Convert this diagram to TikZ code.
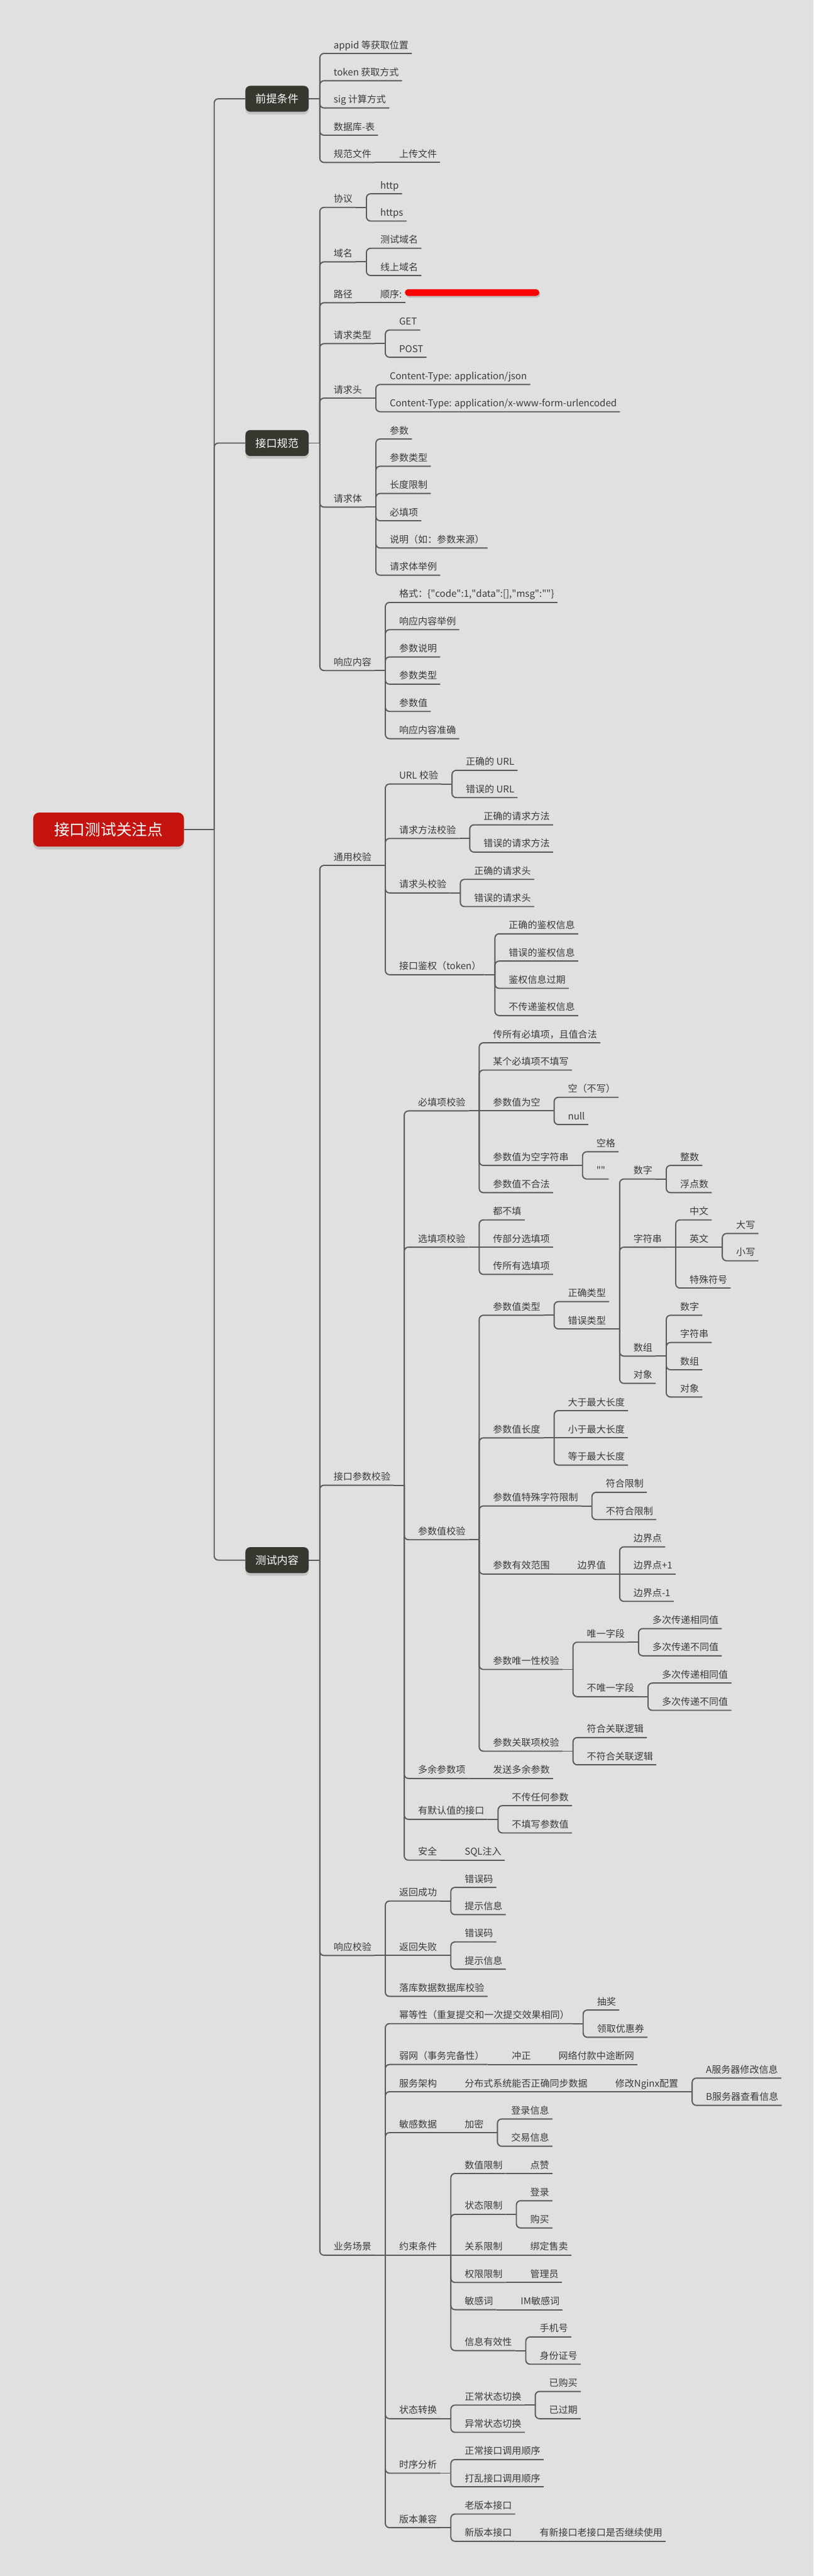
\documentclass[tikz,border=0pt]{standalone}
\usepackage{fontspec}
\setmainfont{Noto Sans CJK SC}
\usetikzlibrary{positioning,shadows}

\definecolor{paper}{HTML}{E0E0E0}
\definecolor{wire}{HTML}{5A5A5A}
\definecolor{ink}{HTML}{3A3A3A}
\definecolor{boxfill}{HTML}{38372F}
\definecolor{rootred}{HTML}{C4130E}

% straight double quote, without the TeX mapping
\font\plainquote="Noto Sans CJK SC" at 7.9pt
\newcommand\dquote{{\plainquote"}}

\begin{document}
\begin{tikzpicture}[
    topic/.style={
      anchor=south west,
      xshift=3.1mm,
      inner xsep=0.9mm,
      inner ysep=0.8mm,
      text height=2.2mm,
      text depth=0.6mm,
      text=ink,
      font=\fontsize{7.9}{9}\selectfont
    },
    mainbox/.style={
      anchor=west,
      xshift=9.1mm,
      fill=boxfill,
      text=white,
      rounded corners=4pt,
      minimum width=1.86cm,
      minimum height=0.76cm,
      font=\fontsize{9}{11}\selectfont,
      drop shadow={opacity=0.3,shadow xshift=0mm,shadow yshift=-0.8mm}
    },
    rootbox/.style={
      fill=rootred,
      text=white,
      rounded corners=5pt,
      minimum width=4.43cm,
      minimum height=1cm,
      font=\fontsize{13}{15}\selectfont,
      drop shadow={opacity=0.3,shadow xshift=0mm,shadow yshift=-0.8mm}
    },
    redmark/.style={
      fill=red,
      rounded corners=1mm,
      minimum width=3.95cm,
      minimum height=2mm,
      inner sep=0pt,
      drop shadow={opacity=0.35,shadow xshift=0.3mm,shadow yshift=-0.5mm}
    },
    link/.style={draw=wire,line width=1pt},
    branch/.style={link,rounded corners=3.5pt}
  ]

  \fill[paper] (0,0) rectangle (23.9,-75.64);
  \useasboundingbox (0,0) rectangle (23.9,-75.64);

  % root and main branches
  \node[rootbox] (root) at (3.19,-24.36) {接口测试关注点};
  \coordinate (root-b) at ([xshift=8.8mm]root.east);
  \node[mainbox] (pre) at (root-b |- 0,-2.90) {前提条件};
  \node[mainbox] (spec) at (root-b |- 0,-13.01) {接口规范};
  \node[mainbox] (test) at (root-b |- 0,-45.81) {测试内容};
  \draw[link] (root.east) -- (root-b);
  \foreach \k in {pre,spec,test}
    \draw[branch] (root-b) |- (\k.west);

  % 前提条件
  \coordinate (pre-b) at ([xshift=3.2mm]pre.east);
  \node[topic] (pre1) at (pre-b |- 0,-1.57) {appid 等获取位置};
  \node[topic] (pre2) at (pre-b |- 0,-2.37) {token 获取方式};
  \node[topic] (pre3) at (pre-b |- 0,-3.17) {sig 计算方式};
  \node[topic] (pre4) at (pre-b |- 0,-3.97) {数据库-表};
  \node[topic] (pre5) at (pre-b |- 0,-4.77) {规范文件};
  \node[topic,xshift=3.1mm] (pre5a) at (pre5.south east) {上传文件};
  \draw[link] (pre.east) -- (pre-b);
  \foreach \i in {1,...,5}
    \draw[branch] (pre-b) |- (pre\i.south east);
  \draw[link] (pre5.south east) -- (pre5a.south east);

  % 接口规范
  \coordinate (spec-b) at ([xshift=3.2mm]spec.east);
  \node[topic] (spec1) at (spec-b |- 0,-6.09) {协议};
  \node[topic] (spec2) at (spec-b |- 0,-7.69) {域名};
  \node[topic] (spec3) at (spec-b |- 0,-8.89) {路径};
  \node[topic] (spec4) at (spec-b |- 0,-10.09) {请求类型};
  \node[topic] (spec5) at (spec-b |- 0,-11.69) {请求头};
  \node[topic] (spec6) at (spec-b |- 0,-14.89) {请求体};
  \node[topic] (spec7) at (spec-b |- 0,-19.69) {响应内容};
  \draw[link] (spec.east) -- (spec-b);
  \foreach \i in {1,...,7}
    \draw[branch] (spec-b) |- (spec\i.south east);

  \coordinate (spec1-b) at ([xshift=3.1mm]spec1.south east);
  \node[topic] (spec1a) at (spec1-b |- 0,-5.69) {http};
  \node[topic] (spec1b) at (spec1-b |- 0,-6.49) {https};
  \coordinate (spec2-b) at ([xshift=3.1mm]spec2.south east);
  \node[topic] (spec2a) at (spec2-b |- 0,-7.29) {测试域名};
  \node[topic] (spec2b) at (spec2-b |- 0,-8.09) {线上域名};
  \node[topic,xshift=3.1mm] (spec3a) at (spec3.south east) {顺序:\hspace{4.1cm}};
  \node[redmark] (mask) at (13.87,-8.59) {};
  \coordinate (spec4-b) at ([xshift=3.1mm]spec4.south east);
  \node[topic] (spec4a) at (spec4-b |- 0,-9.69) {GET};
  \node[topic] (spec4b) at (spec4-b |- 0,-10.49) {POST};
  \coordinate (spec5-b) at ([xshift=3.1mm]spec5.south east);
  \node[topic] (spec5a) at (spec5-b |- 0,-11.29) {Content-Type: application/json};
  \node[topic] (spec5b) at (spec5-b |- 0,-12.09) {Content-Type: application/x-www-form-urlencoded};
  \coordinate (spec6-b) at ([xshift=3.1mm]spec6.south east);
  \node[topic] (spec6a) at (spec6-b |- 0,-12.89) {参数};
  \node[topic] (spec6b) at (spec6-b |- 0,-13.69) {参数类型};
  \node[topic] (spec6c) at (spec6-b |- 0,-14.49) {长度限制};
  \node[topic] (spec6d) at (spec6-b |- 0,-15.29) {必填项};
  \node[topic] (spec6e) at (spec6-b |- 0,-16.09) {说明（如：参数来源）};
  \node[topic] (spec6f) at (spec6-b |- 0,-16.89) {请求体举例};
  \coordinate (spec7-b) at ([xshift=3.1mm]spec7.south east);
  \node[topic] (spec7a) at (spec7-b |- 0,-17.69)
    {格式：\{\dquote code\dquote:1,\dquote data\dquote:[],\dquote msg\dquote:\dquote\dquote\}};
  \node[topic] (spec7b) at (spec7-b |- 0,-18.49) {响应内容举例};
  \node[topic] (spec7c) at (spec7-b |- 0,-19.29) {参数说明};
  \node[topic] (spec7d) at (spec7-b |- 0,-20.09) {参数类型};
  \node[topic] (spec7e) at (spec7-b |- 0,-20.89) {参数值};
  \node[topic] (spec7f) at (spec7-b |- 0,-21.69) {响应内容准确};

  \foreach \p/\kids in {spec1/{a,b},spec2/{a,b},spec4/{a,b},spec5/{a,b},
                        spec6/{a,b,c,d,e,f},spec7/{a,b,c,d,e,f}} {
    \draw[link] (\p.south east) -- (\p-b);
    \foreach \i in \kids
      \draw[branch] (\p-b) |- (\p\i.south east);
  }
  \draw[link] (spec3.south east) -- (spec3a.south east);

  % 测试内容
  \coordinate (test-b) at ([xshift=3.2mm]test.east);
  \node[topic] (gen) at (test-b |- 0,-25.41) {通用校验};
  \node[topic] (par) at (test-b |- 0,-43.61) {接口参数校验};
  \node[topic] (resp) at (test-b |- 0,-57.42) {响应校验};
  \node[topic] (biz) at (test-b |- 0,-66.22) {业务场景};
  \draw[link] (test.east) -- (test-b);
  \foreach \k in {gen,par,resp,biz}
    \draw[branch] (test-b) |- (\k.south east);

  % 通用校验
  \coordinate (gen-b) at ([xshift=3.1mm]gen.south east);
  \node[topic] (gen1) at (gen-b |- 0,-23.02) {URL 校验};
  \node[topic] (gen2) at (gen-b |- 0,-24.62) {请求方法校验};
  \node[topic] (gen3) at (gen-b |- 0,-26.22) {请求头校验};
  \node[topic] (gen4) at (gen-b |- 0,-28.62) {接口鉴权（token）};
  \coordinate (gen1-b) at ([xshift=3.1mm]gen1.south east);
  \node[topic] (gen1a) at (gen1-b |- 0,-22.62) {正确的 URL};
  \node[topic] (gen1b) at (gen1-b |- 0,-23.42) {错误的 URL};
  \coordinate (gen2-b) at ([xshift=3.1mm]gen2.south east);
  \node[topic] (gen2a) at (gen2-b |- 0,-24.22) {正确的请求方法};
  \node[topic] (gen2b) at (gen2-b |- 0,-25.02) {错误的请求方法};
  \coordinate (gen3-b) at ([xshift=3.1mm]gen3.south east);
  \node[topic] (gen3a) at (gen3-b |- 0,-25.82) {正确的请求头};
  \node[topic] (gen3b) at (gen3-b |- 0,-26.62) {错误的请求头};
  \coordinate (gen4-b) at ([xshift=3.1mm]gen4.south east);
  \node[topic] (gen4a) at (gen4-b |- 0,-27.42) {正确的鉴权信息};
  \node[topic] (gen4b) at (gen4-b |- 0,-28.22) {错误的鉴权信息};
  \node[topic] (gen4c) at (gen4-b |- 0,-29.02) {鉴权信息过期};
  \node[topic] (gen4d) at (gen4-b |- 0,-29.82) {不传递鉴权信息};
  \draw[link] (gen.south east) -- (gen-b);
  \foreach \i in {1,...,4}
    \draw[branch] (gen-b) |- (gen\i.south east);
  \foreach \p/\kids in {gen1/{a,b},gen2/{a,b},gen3/{a,b},gen4/{a,b,c,d}} {
    \draw[link] (\p.south east) -- (\p-b);
    \foreach \i in \kids
      \draw[branch] (\p-b) |- (\p\i.south east);
  }

  % 接口参数校验
  \coordinate (par-b) at ([xshift=3.1mm]par.south east);
  \node[topic] (req) at (par-b |- 0,-32.62) {必填项校验};
  \node[topic] (opt) at (par-b |- 0,-36.62) {选填项校验};
  \node[topic] (val) at (par-b |- 0,-45.21) {参数值校验};
  \node[topic] (extra) at (par-b |- 0,-52.22) {多余参数项};
  \node[topic] (dflt) at (par-b |- 0,-53.42) {有默认值的接口};
  \node[topic] (sec) at (par-b |- 0,-54.62) {安全};
  \draw[link] (par.south east) -- (par-b);
  \foreach \k in {req,opt,val,extra,dflt,sec}
    \draw[branch] (par-b) |- (\k.south east);

  \coordinate (req-b) at ([xshift=3.1mm]req.south east);
  \node[topic] (req1) at (req-b |- 0,-30.62) {传所有必填项，且值合法};
  \node[topic] (req2) at (req-b |- 0,-31.42) {某个必填项不填写};
  \node[topic] (req3) at (req-b |- 0,-32.62) {参数值为空};
  \node[topic] (req4) at (req-b |- 0,-34.22) {参数值为空字符串};
  \node[topic] (req5) at (req-b |- 0,-35.02) {参数值不合法};
  \draw[link] (req.south east) -- (req-b) -- (req3.south east);
  \foreach \i in {1,2,4,5}
    \draw[branch] (req-b) |- (req\i.south east);
  \coordinate (req3-b) at ([xshift=3.1mm]req3.south east);
  \node[topic] (req3a) at (req3-b |- 0,-32.22) {空（不写）};
  \node[topic] (req3b) at (req3-b |- 0,-33.02) {null};
  \coordinate (req4-b) at ([xshift=3.1mm]req4.south east);
  \node[topic] (req4a) at (req4-b |- 0,-33.82) {空格};
  \node[topic] (req4b) at (req4-b |- 0,-34.62) {\dquote\dquote};
  \foreach \p in {req3,req4} {
    \draw[link] (\p.south east) -- (\p-b);
    \foreach \i in {a,b}
      \draw[branch] (\p-b) |- (\p\i.south east);
  }

  \coordinate (opt-b) at ([xshift=3.1mm]opt.south east);
  \node[topic] (opt1) at (opt-b |- 0,-35.82) {都不填};
  \node[topic] (opt2) at (opt-b |- 0,-36.62) {传部分选填项};
  \node[topic] (opt3) at (opt-b |- 0,-37.42) {传所有选填项};
  \draw[link] (opt.south east) -- (opt-b) -- (opt2.south east);
  \foreach \i in {1,3}
    \draw[branch] (opt-b) |- (opt\i.south east);

  % 参数值校验
  \coordinate (val-b) at ([xshift=3.1mm]val.south east);
  \node[topic] (vtype) at (val-b |- 0,-38.62) {参数值类型};
  \node[topic] (vlen) at (val-b |- 0,-42.22) {参数值长度};
  \node[topic] (vchr) at (val-b |- 0,-44.22) {参数值特殊字符限制};
  \node[topic] (vrng) at (val-b |- 0,-46.22) {参数有效范围};
  \node[topic] (vuni) at (val-b |- 0,-49.02) {参数唯一性校验};
  \node[topic] (vrel) at (val-b |- 0,-51.42) {参数关联项校验};
  \draw[link] (val.south east) -- (val-b);
  \foreach \k in {vtype,vlen,vchr,vrng,vuni,vrel}
    \draw[branch] (val-b) |- (\k.south east);

  \coordinate (vtype-b) at ([xshift=3.1mm]vtype.south east);
  \node[topic] (vtype1) at (vtype-b |- 0,-38.22) {正确类型};
  \node[topic] (vtype2) at (vtype-b |- 0,-39.02) {错误类型};
  \draw[link] (vtype.south east) -- (vtype-b);
  \foreach \i in {1,2}
    \draw[branch] (vtype-b) |- (vtype\i.south east);

  \coordinate (vtype2-b) at ([xshift=3.1mm]vtype2.south east);
  \node[topic] (wnum) at (vtype2-b |- 0,-34.62) {数字};
  \node[topic] (wstr) at (vtype2-b |- 0,-36.62) {字符串};
  \node[topic] (warr) at (vtype2-b |- 0,-39.82) {数组};
  \node[topic] (wobj) at (vtype2-b |- 0,-40.62) {对象};
  \draw[link] (vtype2.south east) -- (vtype2-b);
  \foreach \k in {wnum,wstr,warr,wobj}
    \draw[branch] (vtype2-b) |- (\k.south east);

  \coordinate (wnum-b) at ([xshift=3.1mm]wnum.south east);
  \node[topic] (wnuma) at (wnum-b |- 0,-34.22) {整数};
  \node[topic] (wnumb) at (wnum-b |- 0,-35.02) {浮点数};
  \coordinate (wstr-b) at ([xshift=3.1mm]wstr.south east);
  \node[topic] (wstra) at (wstr-b |- 0,-35.82) {中文};
  \node[topic] (wstrb) at (wstr-b |- 0,-36.62) {英文};
  \node[topic] (wstrc) at (wstr-b |- 0,-37.82) {特殊符号};
  \coordinate (wstrb-b) at ([xshift=3.1mm]wstrb.south east);
  \node[topic] (wstrb1) at (wstrb-b |- 0,-36.22) {大写};
  \node[topic] (wstrb2) at (wstrb-b |- 0,-37.02) {小写};
  \coordinate (warr-b) at ([xshift=3.1mm]warr.south east);
  \node[topic] (warra) at (warr-b |- 0,-38.62) {数字};
  \node[topic] (warrb) at (warr-b |- 0,-39.42) {字符串};
  \node[topic] (warrc) at (warr-b |- 0,-40.22) {数组};
  \node[topic] (warrd) at (warr-b |- 0,-41.02) {对象};
  \foreach \p/\kids in {wnum/{a,b},warr/{a,b,c,d},wstrb/{1,2}} {
    \draw[link] (\p.south east) -- (\p-b);
    \foreach \i in \kids
      \draw[branch] (\p-b) |- (\p\i.south east);
  }
  \draw[link] (wstr.south east) -- (wstr-b) -- (wstrb.south east);
  \foreach \i in {a,c}
    \draw[branch] (wstr-b) |- (wstr\i.south east);

  \coordinate (vlen-b) at ([xshift=3.1mm]vlen.south east);
  \node[topic] (vlena) at (vlen-b |- 0,-41.42) {大于最大长度};
  \node[topic] (vlenb) at (vlen-b |- 0,-42.22) {小于最大长度};
  \node[topic] (vlenc) at (vlen-b |- 0,-43.02) {等于最大长度};
  \draw[link] (vlen.south east) -- (vlen-b) -- (vlenb.south east);
  \foreach \i in {a,c}
    \draw[branch] (vlen-b) |- (vlen\i.south east);

  \coordinate (vchr-b) at ([xshift=3.1mm]vchr.south east);
  \node[topic] (vchra) at (vchr-b |- 0,-43.82) {符合限制};
  \node[topic] (vchrb) at (vchr-b |- 0,-44.62) {不符合限制};
  \draw[link] (vchr.south east) -- (vchr-b);
  \foreach \i in {a,b}
    \draw[branch] (vchr-b) |- (vchr\i.south east);

  \node[topic,xshift=3.1mm] (vrng1) at (vrng.south east) {边界值};
  \draw[link] (vrng.south east) -- (vrng1.south east);
  \coordinate (vrng1-b) at ([xshift=3.1mm]vrng1.south east);
  \node[topic] (vrng1a) at (vrng1-b |- 0,-45.42) {边界点};
  \node[topic] (vrng1b) at (vrng1-b |- 0,-46.22) {边界点+1};
  \node[topic] (vrng1c) at (vrng1-b |- 0,-47.02) {边界点-1};
  \draw[link] (vrng1.south east) -- (vrng1-b) -- (vrng1b.south east);
  \foreach \i in {a,c}
    \draw[branch] (vrng1-b) |- (vrng1\i.south east);

  \coordinate (vuni-b) at ([xshift=3.1mm]vuni.south east);
  \node[topic] (vuni1) at (vuni-b |- 0,-48.22) {唯一字段};
  \node[topic] (vuni2) at (vuni-b |- 0,-49.82) {不唯一字段};
  \coordinate (vuni1-b) at ([xshift=3.1mm]vuni1.south east);
  \node[topic] (vuni1a) at (vuni1-b |- 0,-47.82) {多次传递相同值};
  \node[topic] (vuni1b) at (vuni1-b |- 0,-48.62) {多次传递不同值};
  \coordinate (vuni2-b) at ([xshift=3.1mm]vuni2.south east);
  \node[topic] (vuni2a) at (vuni2-b |- 0,-49.42) {多次传递相同值};
  \node[topic] (vuni2b) at (vuni2-b |- 0,-50.22) {多次传递不同值};
  \draw[link] (vuni.south east) -- (vuni-b);
  \foreach \i in {1,2}
    \draw[branch] (vuni-b) |- (vuni\i.south east);

  \coordinate (vrel-b) at ([xshift=3.1mm]vrel.south east);
  \node[topic] (vrela) at (vrel-b |- 0,-51.02) {符合关联逻辑};
  \node[topic] (vrelb) at (vrel-b |- 0,-51.82) {不符合关联逻辑};
  \foreach \p in {vuni1,vuni2,vrel} {
    \draw[link] (\p.south east) -- (\p-b);
    \foreach \i in {a,b}
      \draw[branch] (\p-b) |- (\p\i.south east);
  }

  \node[topic,xshift=3.1mm] (extra1) at (extra.south east) {发送多余参数};
  \draw[link] (extra.south east) -- (extra1.south east);
  \coordinate (dflt-b) at ([xshift=3.1mm]dflt.south east);
  \node[topic] (dflta) at (dflt-b |- 0,-53.02) {不传任何参数};
  \node[topic] (dfltb) at (dflt-b |- 0,-53.82) {不填写参数值};
  \draw[link] (dflt.south east) -- (dflt-b);
  \foreach \i in {a,b}
    \draw[branch] (dflt-b) |- (dflt\i.south east);
  \node[topic,xshift=3.1mm] (sec1) at (sec.south east) {SQL注入};
  \draw[link] (sec.south east) -- (sec1.south east);

  % 响应校验
  \coordinate (resp-b) at ([xshift=3.1mm]resp.south east);
  \node[topic] (ok) at (resp-b |- 0,-55.82) {返回成功};
  \node[topic] (fail) at (resp-b |- 0,-57.42) {返回失败};
  \node[topic] (db) at (resp-b |- 0,-58.62) {落库数据数据库校验};
  \draw[link] (resp.south east) -- (resp-b) -- (fail.south east);
  \foreach \k in {ok,db}
    \draw[branch] (resp-b) |- (\k.south east);
  \coordinate (ok-b) at ([xshift=3.1mm]ok.south east);
  \node[topic] (oka) at (ok-b |- 0,-55.42) {错误码};
  \node[topic] (okb) at (ok-b |- 0,-56.22) {提示信息};
  \coordinate (fail-b) at ([xshift=3.1mm]fail.south east);
  \node[topic] (faila) at (fail-b |- 0,-57.02) {错误码};
  \node[topic] (failb) at (fail-b |- 0,-57.82) {提示信息};
  \foreach \p in {ok,fail} {
    \draw[link] (\p.south east) -- (\p-b);
    \foreach \i in {a,b}
      \draw[branch] (\p-b) |- (\p\i.south east);
  }

  % 业务场景
  \coordinate (biz-b) at ([xshift=3.1mm]biz.south east);
  \node[topic] (idem) at (biz-b |- 0,-59.42) {幂等性（重复提交和一次提交效果相同）};
  \node[topic] (weak) at (biz-b |- 0,-60.62) {弱网（事务完备性）};
  \node[topic] (arch) at (biz-b |- 0,-61.42) {服务架构};
  \node[topic] (sens) at (biz-b |- 0,-62.62) {敏感数据};
  \node[topic] (cons) at (biz-b |- 0,-66.22) {约束条件};
  \node[topic] (stat) at (biz-b |- 0,-71.02) {状态转换};
  \node[topic] (seq) at (biz-b |- 0,-72.62) {时序分析};
  \node[topic] (ver) at (biz-b |- 0,-74.22) {版本兼容};
  \draw[link] (biz.south east) -- (biz-b) -- (cons.south east);
  \foreach \k in {idem,weak,arch,sens,stat,seq,ver}
    \draw[branch] (biz-b) |- (\k.south east);

  \coordinate (idem-b) at ([xshift=3.1mm]idem.south east);
  \node[topic] (idema) at (idem-b |- 0,-59.02) {抽奖};
  \node[topic] (idemb) at (idem-b |- 0,-59.82) {领取优惠券};

  \node[topic,xshift=3.1mm] (weak1) at (weak.south east) {冲正};
  \node[topic,xshift=3.1mm] (weak2) at (weak1.south east) {网络付款中途断网};
  \draw[link] (weak.south east) -- (weak1.south east) -- (weak2.south east);

  \node[topic,xshift=3.1mm] (arch1) at (arch.south east) {分布式系统能否正确同步数据};
  \node[topic,xshift=3.1mm] (arch2) at (arch1.south east) {修改Nginx配置};
  \draw[link] (arch.south east) -- (arch1.south east) -- (arch2.south east);
  \coordinate (arch2-b) at ([xshift=3.1mm]arch2.south east);
  \node[topic] (arch2a) at (arch2-b |- 0,-61.02) {A服务器修改信息};
  \node[topic] (arch2b) at (arch2-b |- 0,-61.82) {B服务器查看信息};

  \node[topic,xshift=3.1mm] (sens1) at (sens.south east) {加密};
  \draw[link] (sens.south east) -- (sens1.south east);
  \coordinate (sens1-b) at ([xshift=3.1mm]sens1.south east);
  \node[topic] (sens1a) at (sens1-b |- 0,-62.22) {登录信息};
  \node[topic] (sens1b) at (sens1-b |- 0,-63.02) {交易信息};

  \coordinate (cons-b) at ([xshift=3.1mm]cons.south east);
  \node[topic] (cons1) at (cons-b |- 0,-63.82) {数值限制};
  \node[topic] (cons2) at (cons-b |- 0,-65.02) {状态限制};
  \node[topic] (cons3) at (cons-b |- 0,-66.22) {关系限制};
  \node[topic] (cons4) at (cons-b |- 0,-67.02) {权限限制};
  \node[topic] (cons5) at (cons-b |- 0,-67.82) {敏感词};
  \node[topic] (cons6) at (cons-b |- 0,-69.02) {信息有效性};
  \draw[link] (cons.south east) -- (cons-b) -- (cons3.south east);
  \foreach \i in {1,2,4,5,6}
    \draw[branch] (cons-b) |- (cons\i.south east);
  \node[topic,xshift=3.1mm] (cons1a) at (cons1.south east) {点赞};
  \node[topic,xshift=3.1mm] (cons3a) at (cons3.south east) {绑定售卖};
  \node[topic,xshift=3.1mm] (cons4a) at (cons4.south east) {管理员};
  \node[topic,xshift=3.1mm] (cons5a) at (cons5.south east) {IM敏感词};
  \foreach \i in {1,3,4,5}
    \draw[link] (cons\i.south east) -- (cons\i a.south east);
  \coordinate (cons2-b) at ([xshift=3.1mm]cons2.south east);
  \node[topic] (cons2a) at (cons2-b |- 0,-64.62) {登录};
  \node[topic] (cons2b) at (cons2-b |- 0,-65.42) {购买};
  \coordinate (cons6-b) at ([xshift=3.1mm]cons6.south east);
  \node[topic] (cons6a) at (cons6-b |- 0,-68.62) {手机号};
  \node[topic] (cons6b) at (cons6-b |- 0,-69.42) {身份证号};

  \coordinate (stat-b) at ([xshift=3.1mm]stat.south east);
  \node[topic] (stata) at (stat-b |- 0,-70.62) {正常状态切换};
  \node[topic] (statb) at (stat-b |- 0,-71.42) {异常状态切换};
  \coordinate (stata-b) at ([xshift=3.1mm]stata.south east);
  \node[topic] (stata1) at (stata-b |- 0,-70.22) {已购买};
  \node[topic] (stata2) at (stata-b |- 0,-71.02) {已过期};
  \draw[link] (stata.south east) -- (stata-b);
  \foreach \i in {1,2}
    \draw[branch] (stata-b) |- (stata\i.south east);

  \coordinate (seq-b) at ([xshift=3.1mm]seq.south east);
  \node[topic] (seqa) at (seq-b |- 0,-72.22) {正常接口调用顺序};
  \node[topic] (seqb) at (seq-b |- 0,-73.02) {打乱接口调用顺序};

  \coordinate (ver-b) at ([xshift=3.1mm]ver.south east);
  \node[topic] (vera) at (ver-b |- 0,-73.82) {老版本接口};
  \node[topic] (verb) at (ver-b |- 0,-74.62) {新版本接口};
  \node[topic,xshift=3.1mm] (verb1) at (verb.south east) {有新接口老接口是否继续使用};
  \draw[link] (verb.south east) -- (verb1.south east);

  \foreach \p in {idem,arch2,sens1,cons2,cons6,stat,seq,ver} {
    \draw[link] (\p.south east) -- (\p-b);
    \foreach \i in {a,b}
      \draw[branch] (\p-b) |- (\p\i.south east);
  }

\end{tikzpicture}
\end{document}
